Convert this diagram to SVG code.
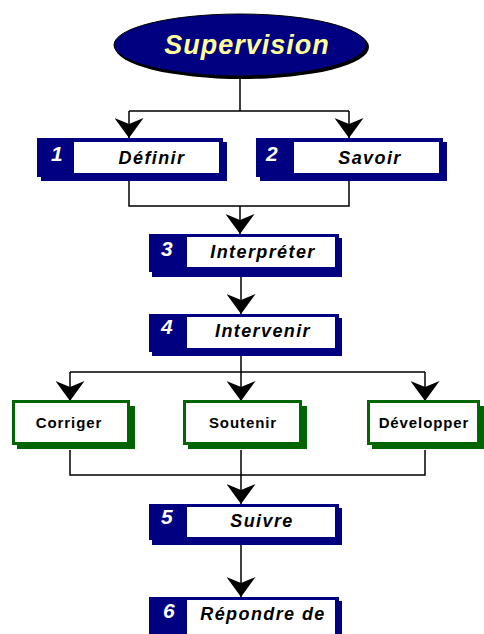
<svg xmlns="http://www.w3.org/2000/svg" width="484" height="634" viewBox="0 0 484 634">
  <defs>
    <style>
      .blue { fill: #000080; }
      .inner { fill: #ffffff; }
      .green { fill: #ffffff; stroke: #006400; stroke-width: 3; }
      .gshadow { fill: #006400; }
      .num { font-family: "Liberation Sans", Arial, sans-serif; font-weight: bold; font-style: italic; font-size: 21px; fill: #ffffff; }
      .step { font-family: "Liberation Sans", Arial, sans-serif; font-weight: bold; font-style: italic; font-size: 18px; letter-spacing: 1.4px; fill: #000000; text-anchor: middle; }
      .act { font-family: "Liberation Sans", Arial, sans-serif; font-weight: bold; font-size: 15px; letter-spacing: 0.9px; fill: #000000; text-anchor: middle; }
      .line { fill: none; stroke: #000000; stroke-width: 1.5; }
    </style>
    <!-- barbed arrowhead, drawn pointing along +x -->
    <marker id="arr" viewBox="0 0 22 29" refX="21" refY="14.5" markerWidth="22" markerHeight="29" markerUnits="userSpaceOnUse" orient="auto">
      <path d="M1,0 L21,14.5 L1,29 L7,14.5 Z" fill="#000000"/>
    </marker>
  </defs>

  <!-- connectors -->
  <g id="connectors">
    <path class="line" d="M240,78 V111 M129,111 H349"/>
    <path class="line" d="M129,111 V138" marker-end="url(#arr)"/>
    <path class="line" d="M349,111 V138" marker-end="url(#arr)"/>
    <path class="line" d="M129,181 V206 H349 V181"/>
    <path class="line" d="M240,206 V234" marker-end="url(#arr)"/>
    <path class="line" d="M241,277 V314" marker-end="url(#arr)"/>
    <path class="line" d="M241,356 V372 M70,372 H425"/>
    <path class="line" d="M70,372 V401" marker-end="url(#arr)"/>
    <path class="line" d="M241,372 V401" marker-end="url(#arr)"/>
    <path class="line" d="M425,372 V401" marker-end="url(#arr)"/>
    <path class="line" d="M70,450 V475 H425 V450 M241,450 V475"/>
    <path class="line" d="M241,475 V504" marker-end="url(#arr)"/>
    <path class="line" d="M241,545 V597" marker-end="url(#arr)"/>
  </g>

  <!-- start node -->
  <g id="supervision">
    <ellipse cx="242" cy="47" rx="127" ry="32" fill="#000000"/>
    <ellipse cx="240" cy="45" rx="126" ry="31" fill="#000080" stroke="#000000" stroke-width="1"/>
    <text x="247" y="54" text-anchor="middle" font-family="Liberation Sans, Arial, sans-serif" font-weight="bold" font-style="italic" font-size="27" letter-spacing="1" fill="#ffff99">Supervision</text>
  </g>

  <!-- numbered steps -->
  <g id="step1">
    <rect class="blue" x="41" y="142" width="186" height="39"/>
    <rect class="blue" x="37" y="138" width="186" height="39"/>
    <rect class="inner" x="74" y="142" width="145" height="31"/>
    <text class="num" x="51" y="161">1</text>
    <text class="step" x="152" y="164">Définir</text>
  </g>
  <g id="step2">
    <rect class="blue" x="260" y="142" width="187" height="39"/>
    <rect class="blue" x="256" y="138" width="187" height="39"/>
    <rect class="inner" x="294" y="142" width="145" height="31"/>
    <text class="num" x="266" y="161">2</text>
    <text class="step" x="370" y="164">Savoir</text>
  </g>
  <g id="step3">
    <rect class="blue" x="152" y="238" width="190" height="39"/>
    <rect class="blue" x="149" y="234" width="190" height="38"/>
    <rect class="inner" x="187" y="237" width="148" height="30"/>
    <text class="num" x="161" y="256">3</text>
    <text class="step" x="263" y="258">Interpréter</text>
  </g>
  <g id="step4">
    <rect class="blue" x="152" y="318" width="190" height="38"/>
    <rect class="blue" x="149" y="314" width="190" height="38"/>
    <rect class="inner" x="187" y="317" width="148" height="31"/>
    <text class="num" x="161" y="334">4</text>
    <text class="step" x="263" y="337">Intervenir</text>
  </g>

  <!-- actions -->
  <g id="corriger">
    <rect class="gshadow" x="17" y="406" width="118" height="43"/>
    <rect class="green" x="13.5" y="401.5" width="115" height="42"/>
    <text class="act" x="69" y="428">Corriger</text>
  </g>
  <g id="soutenir">
    <rect class="gshadow" x="188" y="406" width="119" height="43"/>
    <rect class="green" x="184.5" y="401.5" width="116" height="42"/>
    <text class="act" x="243" y="428">Soutenir</text>
  </g>
  <g id="developper">
    <rect class="gshadow" x="372" y="406" width="112" height="43"/>
    <rect class="green" x="368.5" y="401.5" width="110" height="42"/>
    <text class="act" x="424" y="428">Développer</text>
  </g>

  <g id="step5">
    <rect class="blue" x="152" y="508" width="190" height="37"/>
    <rect class="blue" x="149" y="504" width="190" height="36"/>
    <rect class="inner" x="187" y="507" width="148" height="30"/>
    <text class="num" x="161" y="524">5</text>
    <text class="step" x="262" y="527">Suivre</text>
  </g>
  <g id="step6">
    <rect class="blue" x="152" y="601" width="190" height="40"/>
    <rect class="blue" x="149" y="597" width="190" height="40"/>
    <rect class="inner" x="187" y="600" width="148" height="40"/>
    <text class="num" x="163" y="618">6</text>
    <text class="step" x="263" y="620">Répondre de</text>
  </g>
</svg>
